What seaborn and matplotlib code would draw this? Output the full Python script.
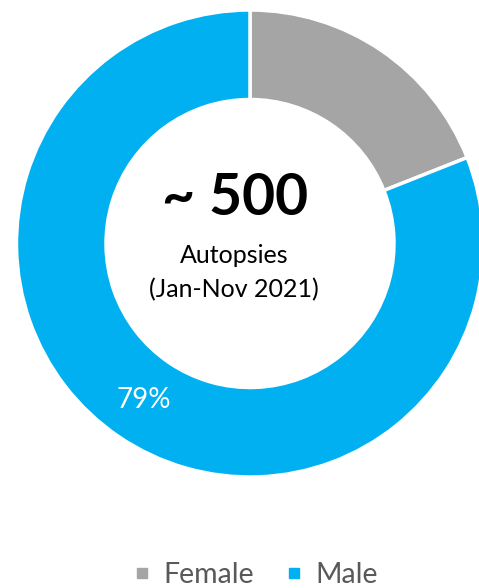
import matplotlib
matplotlib.use("Agg")
import matplotlib.pyplot as plt
import seaborn as sns
import numpy as np
from matplotlib.lines import Line2D

categories = ["Female", "Male"]
shares = [19, 81]
slice_labels = ["", "79%"]
center_title = "~ 500"
center_sub = ["Autopsies", "(Jan-Nov 2021)"]
colors = ["#A5A5A5", "#00B0F0"]

sns.set_theme(style="white")
plt.rcParams["font.family"] = ["Lato", "DejaVu Sans"]

W, H = 479, 588
fig = plt.figure(figsize=(W / 100, H / 100), dpi=100)
ax = fig.add_axes([0, 0, 1, 1])

cx, cy = 250, H - 243.5
R, r = 233.5, 144
wedges, _ = ax.pie(shares, colors=colors, startangle=90, counterclock=False,
                   radius=R, center=(cx, cy),
                   wedgeprops=dict(width=R - r, edgecolor="white", linewidth=2.5))
ax.set_xlim(0, W)
ax.set_ylim(0, H)
ax.set_aspect("equal")
ax.axis("off")

for w, lab in zip(wedges, slice_labels):
    if not lab:
        continue
    ang = np.deg2rad((w.theta1 + w.theta2) / 2)
    rm = (R + r) / 2
    ax.text(cx + rm * np.cos(ang), cy + rm * np.sin(ang), lab, color="white",
            fontsize=20, ha="center", va="center")

ax.text(235, H - 215, center_title, ha="center", va="baseline",
        fontsize=41, fontweight="bold", color="black")
ax.text(234, H - 263, center_sub[0], ha="center", va="baseline",
        fontsize=18, color="black")
ax.text(234, H - 297, center_sub[1], ha="center", va="baseline",
        fontsize=18, color="black")

handles = [Line2D([], [], marker="s", linestyle="", markersize=7.5,
                  markerfacecolor=c, markeredgecolor=c) for c in colors]
leg = fig.legend(handles, categories, loc="center", ncol=2,
                 bbox_to_anchor=(256 / W, 1 - 575 / H), frameon=False,
                 fontsize=20.5, handlelength=0.6, handletextpad=0.45,
                 columnspacing=1.1)
for t in leg.get_texts():
    t.set_color("#595959")

fig.savefig("out.png", dpi=100)
